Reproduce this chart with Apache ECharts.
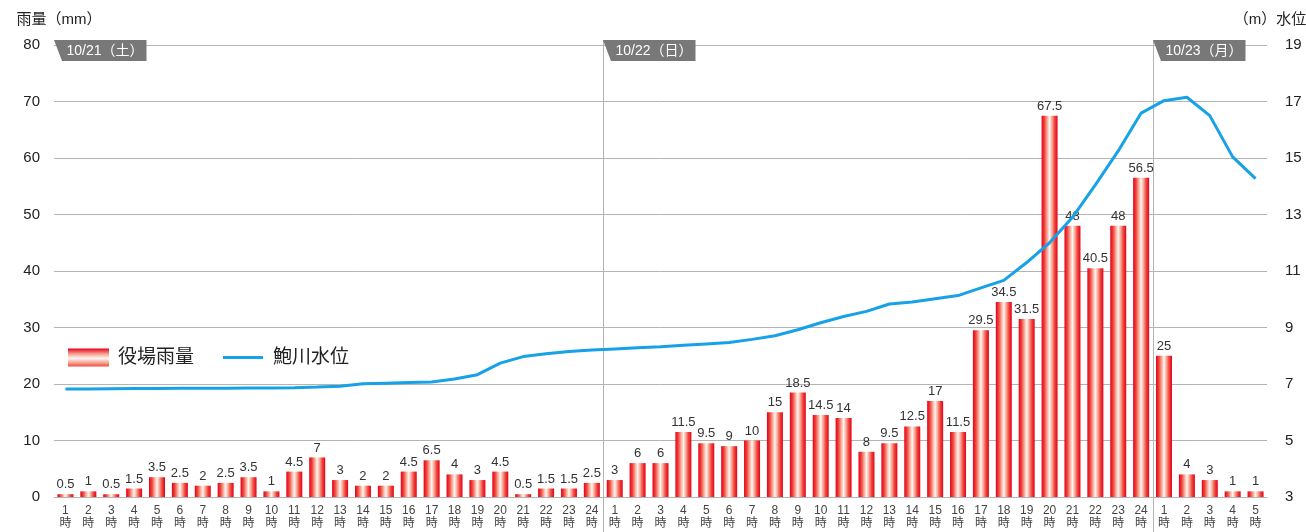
<!DOCTYPE html>
<html>
<head>
<meta charset="utf-8">
<script src="https://cdn.jsdelivr.net/npm/echarts@6/dist/echarts.min.js"></script>
<style>
  html, body { margin: 0; padding: 0; background: #fff; }
  #chart { width: 1306px; height: 532px; }
</style>
</head>
<body>
<div id="chart"></div>
<script>
// 日付ラベル
const dayTags = ['10/21（土）', '10/22（日）', '10/23（月）']
// 各日の時刻
const hours21 = [1, 2, 3, 4, 5, 6, 7, 8, 9, 10, 11, 12, 13, 14, 15, 16, 17, 18, 19, 20, 21, 22, 23, 24]
const hours22 = [1, 2, 3, 4, 5, 6, 7, 8, 9, 10, 11, 12, 13, 14, 15, 16, 17, 18, 19, 20, 21, 22, 23, 24]
const hours23 = [1, 2, 3, 4, 5]

// 役場雨量 (mm)
const rain = [
  0.5, 1, 0.5, 1.5, 3.5, 2.5, 2, 2.5, 3.5, 1, 4.5, 7, 3, 2, 2, 4.5, 6.5, 4, 3, 4.5, 0.5, 1.5, 1.5, 2.5,
  3, 6, 6, 11.5, 9.5, 9, 10, 15, 18.5, 14.5, 14, 8, 9.5, 12.5, 17, 11.5, 29.5, 34.5, 31.5, 67.5, 48, 40.5, 48, 56.5,
  25, 4, 3, 1, 1
]
// 水位 (m)
const level = [
  6.82, 6.82, 6.83, 6.84, 6.84, 6.85, 6.85, 6.85, 6.86, 6.86, 6.87, 6.89, 6.92, 7.01, 7.03, 7.05, 7.07, 7.18, 7.33, 7.74, 7.97, 8.07, 8.15, 8.2,
  8.24, 8.28, 8.32, 8.37, 8.42, 8.47, 8.58, 8.71, 8.92, 9.17, 9.39, 9.57, 9.83, 9.9, 10.02, 10.13, 10.4, 10.67, 11.3, 12.0, 12.9, 14.05, 15.25, 16.59,
  17.03, 17.15, 16.5, 15.04, 14.27
]

const rainTicks = { min: 0, max: 80, interval: 10 }
const levelTicks = { min: 3, max: 19, interval: 2 }

const categories = [
  ...hours21.map(h => '10/21 ' + h),
  ...hours22.map(h => '10/22 ' + h),
  ...hours23.map(h => '10/23 ' + h)
]
// 日の境目（カテゴリ番号）
const dayStart = [0, hours21.length, hours21.length + hours22.length]

const FONT = '"Liberation Sans", "Noto Sans CJK JP", sans-serif'
const GRID = { left: 54, right: 39, top: 45, bottom: 35 }
const GRID_LINE = '#b4b4b4'

const chart = echarts.init(document.getElementById('chart'))

const barGrad = new echarts.graphic.LinearGradient(0, 0, 1, 0, [
  { offset: 0, color: '#e5001a' },
  { offset: 0.18, color: '#f0443a' },
  { offset: 0.35, color: '#f8a898' },
  { offset: 0.5, color: '#fff6f2' },
  { offset: 0.65, color: '#f8a898' },
  { offset: 0.82, color: '#f0443a' },
  { offset: 1, color: '#e5001a' }
])
const legendGrad = new echarts.graphic.LinearGradient(0, 0, 0, 1, [
  { offset: 0, color: '#e5001a' },
  { offset: 0.3, color: '#f6a090' },
  { offset: 0.55, color: '#fff6f2' },
  { offset: 0.8, color: '#f6a090' },
  { offset: 1, color: '#f04a3a' }
])

// 日付の区切り線とタグ
const band = (1306 - GRID.left - GRID.right) / categories.length
const decorations = []
dayStart.forEach((s, k) => {
  const x = Math.round(GRID.left + s * band) + 0.5
  if (s > 0) {
    decorations.push({
      type: 'line',
      shape: { x1: x, y1: 40, x2: x, y2: 532 },
      style: { stroke: GRID_LINE, lineWidth: 1 },
      z: 1
    })
  }
  decorations.push({
    type: 'polygon',
    shape: { points: [[x - 0.5, 40], [x + 92, 40], [x + 92, 61], [x + 7.5, 61]] },
    style: { fill: '#787878' },
    z: 5
  })
  decorations.push({
    type: 'text',
    x: x + 12,
    y: 51,
    style: {
      text: dayTags[k],
      fill: '#fff',
      font: '14px ' + FONT,
      verticalAlign: 'middle'
    },
    z: 6
  })
})

const option = {
  animation: false,
  textStyle: { fontFamily: FONT },
  grid: { ...GRID, containLabel: false, outerBoundsMode: 'none' },
  legend: [
    {
      left: 68,
      top: 348,
      padding: 0,
      itemWidth: 41,
      itemHeight: 18,
      textStyle: { fontSize: 19, color: '#222', padding: [0, 0, 0, 4] },
      data: [{ name: '役場雨量', icon: 'rect', itemStyle: { color: legendGrad } }]
    },
    {
      left: 223,
      top: 348,
      padding: 0,
      itemWidth: 40,
      itemHeight: 3,
      icon: 'rect',
      textStyle: { fontSize: 19, color: '#222', padding: [0, 0, 0, 5] },
      data: ['鮑川水位']
    }
  ],
  xAxis: {
    type: 'category',
    data: categories,
    axisLine: { lineStyle: { color: GRID_LINE } },
    axisTick: { show: false },
    splitLine: { show: false },
    axisLabel: {
      interval: 0,
      margin: 7,
      fontSize: 12,
      lineHeight: 13,
      color: '#444',
      formatter: v => v.split(' ')[1] + '\n時'
    }
  },
  yAxis: [
    {
      type: 'value',
      ...rainTicks,
      name: '雨量（mm）',
      nameGap: 18,
      nameTextStyle: { fontSize: 15, color: '#222', align: 'center', padding: [0, 0, 0, 10] },
      axisLine: { show: false },
      axisTick: { show: false },
      axisLabel: { margin: 14, fontSize: 15, color: '#222' },
      splitLine: { lineStyle: { color: GRID_LINE } }
    },
    {
      type: 'value',
      position: 'right',
      ...levelTicks,
      name: '（m）水位',
      nameGap: 18,
      nameTextStyle: { fontSize: 15, color: '#222', align: 'center', padding: [0, 0, 0, 6] },
      axisLine: { show: false },
      axisTick: { show: false },
      axisLabel: { margin: 18, fontSize: 15, color: '#222' },
      splitLine: { show: false }
    }
  ],
  series: [
    {
      name: '役場雨量',
      type: 'bar',
      data: rain,
      barWidth: 16,
      itemStyle: { color: barGrad },
      label: {
        show: true,
        position: 'top',
        distance: 3,
        fontSize: 13,
        color: '#333'
      },
      z: 2
    },
    {
      name: '鮑川水位',
      type: 'line',
      yAxisIndex: 1,
      data: level,
      symbol: 'none',
      lineStyle: { color: '#17a1e6', width: 3 },
      itemStyle: { color: '#17a1e6' },
      z: 3
    }
  ],
  graphic: decorations
}

chart.setOption(option)
</script>
</body>
</html>
